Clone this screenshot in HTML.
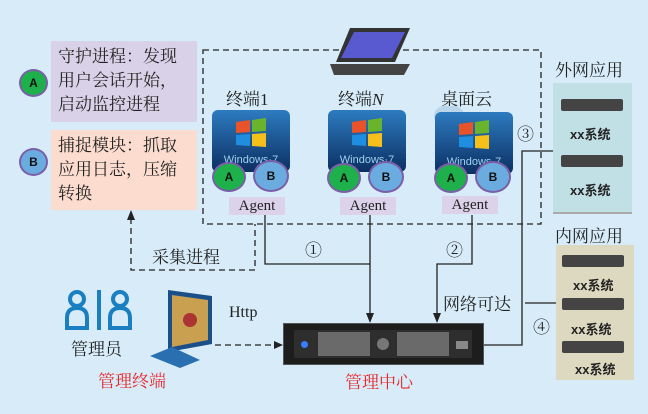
<!DOCTYPE html>
<html><head><meta charset="utf-8"><style>
body{margin:0;width:648px;height:414px;background:#d7ecf8;position:relative;overflow:hidden;font-family:"Liberation Serif","Noto Serif CJK SC",serif;}
.a{position:absolute}
.t{position:absolute;white-space:nowrap;color:#222}
.circ{position:absolute;border-radius:50%;border:2px solid #7a5fa8;font:bold 12px "Liberation Sans",sans-serif;display:flex;align-items:center;justify-content:center;color:#111}
.g{background:#1eb04a}.b{background:#6aacdf}
.win{position:absolute;width:78px;height:62px;border-radius:6px;background:linear-gradient(#2d7bc0,#0c2f62);}
.flag{position:absolute;left:22px;top:8px;width:34px;height:30px;}
.win span{position:absolute;left:0;right:0;top:44px;text-align:center;color:#9ed0f0;font:11px "Liberation Sans",sans-serif}
.ag{position:absolute;width:56px;height:18px;background:#dcd3ea;font-size:15px;text-align:center;line-height:18px;color:#222}
.xs{position:absolute;white-space:nowrap;color:#222;font:bold 13px 'Liberation Sans','Noto Sans CJK SC',sans-serif}
.sv{position:absolute;width:62px;height:12px;background:#444;border-radius:2px}
</style></head><body>
<div class="a" style="left:51px;top:41px;width:146px;height:81px;background:#d9d1e7"></div>
<div class="t" style="left:58px;top:45px;font-size:17px;line-height:24px">守护进程：发现<br>用户会话开始，<br>启动监控进程</div>
<div class="a" style="left:51px;top:130px;width:146px;height:80px;background:#fbdccf"></div>
<div class="t" style="left:58px;top:134px;font-size:17px;line-height:24px">捕捉模块：抓取<br>应用日志，压缩<br>转换</div>
<div class="circ g" style="left:19px;top:69px;width:25px;height:24px">A</div>
<div class="circ b" style="left:19px;top:148px;width:25px;height:24px">B</div>

<svg class="a" style="left:0;top:0" width="648" height="414">
<g fill="none" stroke="#222" stroke-width="1.3" stroke-dasharray="6,4">
<rect x="203" y="50" width="338" height="174"/>
<polyline points="131,218 131,270 255,270 255,224"/>
<line x1="215" y1="345" x2="276" y2="345"/>
</g>
<polygon points="131,210 127,220 135,220" fill="#222"/>
<polygon points="283,345 274,341 274,349" fill="#222"/>
<g fill="none" stroke="#222" stroke-width="1.3">
<polyline points="265,215 265,264 370,264"/>
<line x1="370" y1="215" x2="370" y2="315"/>
<polyline points="472,215 472,264 437,264 437,315"/>
<polyline points="553,151 522,151 522,345 484,345"/>
<line x1="525" y1="303" x2="556" y2="303"/>
</g>
<polygon points="370,323 366,313 374,313" fill="#222"/>
<polygon points="437,323 433,313 441,313" fill="#222"/>
<!-- laptop -->
<polygon points="350,28 410,28 395,62 336,62" fill="#333"/>
<polygon points="354,32 405,32 392,58 341,58" fill="#5a5ad0"/>
<polygon points="330,64 410,64 404,75 334,75" fill="#444"/>
<!-- admin icons -->
<g fill="none" stroke="#1a7fc0" stroke-width="4">
<circle cx="77" cy="299" r="7"/><path d="M67 328 v-10 q0-10 10-10 q10 0 10 10 v10 z"/>
<circle cx="120" cy="299" r="7"/><path d="M110 328 v-10 q0-10 10-10 q10 0 10 10 v10 z"/>
<line x1="99" y1="290" x2="99" y2="330"/>
</g>
<!-- monitor -->
<polygon points="168,290 212,296 212,344 168,352" fill="#1a4f8a"/>
<polygon points="172,295 208,300 208,340 172,347" fill="#c8a050"/>
<circle cx="190" cy="320" r="7" fill="#a33"/>
<polygon points="150,356 172,347 200,360 180,368" fill="#2a6fb0"/>
</svg>

<div class="t" style="left:226px;top:85px;font-size:17px">终端1</div>
<div class="t" style="left:338px;top:85px;font-size:17px">终端<i>N</i></div>
<div class="t" style="left:441px;top:85px;font-size:17px">桌面云</div>
<div class="a" style="left:434px;top:106px;width:30px;height:20px;border-radius:10px;background:#b9d6ea"></div>
<div class="win" style="left:212px;top:110px"><svg class="flag" viewBox="0 0 34 30"><path d="M2 4 L16 2 L16 14 L2 15Z" fill="#e8532a"/><path d="M18 2 L32 0 L32 13 L18 14Z" fill="#6ab42d"/><path d="M2 17 L16 16 L16 28 L2 27Z" fill="#1f8ee0"/><path d="M18 16 L32 15 L32 29 L18 28Z" fill="#f6c01b"/></svg><span>Windows·7</span></div>
<div class="win" style="left:328px;top:110px"><svg class="flag" viewBox="0 0 34 30"><path d="M2 4 L16 2 L16 14 L2 15Z" fill="#e8532a"/><path d="M18 2 L32 0 L32 13 L18 14Z" fill="#6ab42d"/><path d="M2 17 L16 16 L16 28 L2 27Z" fill="#1f8ee0"/><path d="M18 16 L32 15 L32 29 L18 28Z" fill="#f6c01b"/></svg><span>Windows·7</span></div>
<div class="win" style="left:435px;top:112px"><svg class="flag" viewBox="0 0 34 30"><path d="M2 4 L16 2 L16 14 L2 15Z" fill="#e8532a"/><path d="M18 2 L32 0 L32 13 L18 14Z" fill="#6ab42d"/><path d="M2 17 L16 16 L16 28 L2 27Z" fill="#1f8ee0"/><path d="M18 16 L32 15 L32 29 L18 28Z" fill="#f6c01b"/></svg><span>Windows·7</span></div>
<div class="circ g" style="left:212px;top:162px;width:30px;height:26px">A</div>
<div class="circ b" style="left:253px;top:160px;width:32px;height:28px">B</div>
<div class="circ g" style="left:327px;top:163px;width:30px;height:26px">A</div>
<div class="circ b" style="left:368px;top:161px;width:32px;height:28px">B</div>
<div class="circ g" style="left:434px;top:163px;width:30px;height:26px">A</div>
<div class="circ b" style="left:475px;top:161px;width:32px;height:28px">B</div>
<div class="ag" style="left:229px;top:197px">Agent</div>
<div class="ag" style="left:340px;top:197px">Agent</div>
<div class="ag" style="left:442px;top:196px">Agent</div>

<div class="t" style="left:555px;top:56px;font-size:17px">外网应用</div>
<div class="a" style="left:553px;top:83px;width:79px;height:129px;background:#c1e0e6;border-bottom:2px solid #aaa"></div>
<div class="sv" style="left:561px;top:99px"></div>
<div class="xs" style="left:570px;top:124px">xx系统</div>
<div class="sv" style="left:561px;top:155px"></div>
<div class="xs" style="left:570px;top:180px">xx系统</div>

<div class="t" style="left:555px;top:222px;font-size:17px">内网应用</div>
<div class="a" style="left:556px;top:245px;width:78px;height:135px;background:#ddd9c1"></div>
<div class="sv" style="left:562px;top:255px"></div>
<div class="xs" style="left:573px;top:275px">xx系统</div>
<div class="sv" style="left:562px;top:298px"></div>
<div class="xs" style="left:571px;top:319px">xx系统</div>
<div class="sv" style="left:562px;top:341px"></div>
<div class="xs" style="left:575px;top:359px">xx系统</div>

<div class="t" style="left:517px;top:120px;font-size:17px">③</div>
<div class="t" style="left:533px;top:313px;font-size:17px">④</div>
<div class="t" style="left:305px;top:236px;font-size:17px">①</div>
<div class="t" style="left:446px;top:236px;font-size:17px">②</div>
<div class="t" style="left:152px;top:243px;font-size:17px">采集进程</div>
<div class="t" style="left:443px;top:290px;font-size:17px">网络可达</div>
<div class="t" style="left:229px;top:304px;font-size:16px">Http</div>
<div class="t" style="left:71px;top:335px;font-size:17px">管理员</div>
<div class="t" style="left:98px;top:367px;font-size:17px;color:#e8262a">管理终端</div>
<div class="t" style="left:345px;top:368px;font-size:17px;color:#e8262a">管理中心</div>

<div class="a" style="left:283px;top:323px;width:201px;height:42px;background:#1d1d1d;border:1px solid #555;box-sizing:border-box">
<div class="a" style="left:10px;top:6px;width:178px;height:28px;background:#2e2e2e"></div>
<div class="a" style="left:17px;top:17px;width:7px;height:7px;border-radius:50%;background:#3a7bff"></div>
<div class="a" style="left:34px;top:8px;width:52px;height:24px;background:#6a6a6a"></div>
<div class="a" style="left:93px;top:14px;width:12px;height:12px;border-radius:50%;background:#777"></div>
<div class="a" style="left:113px;top:8px;width:52px;height:24px;background:#6a6a6a"></div>
<div class="a" style="left:172px;top:17px;width:12px;height:8px;background:#888"></div>
</div>
</body></html>
